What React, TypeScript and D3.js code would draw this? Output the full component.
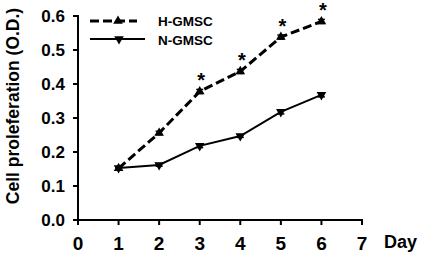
import React from "react";
import * as d3 from "d3";

const days = [1, 2, 3, 4, 5, 6];
const hGMSC = [0.152, 0.256, 0.378, 0.437, 0.538, 0.584];
const hErr = [0.004, 0.005, 0.006, 0.006, 0.006, 0.006];
const nGMSC = [0.153, 0.162, 0.218, 0.247, 0.318, 0.368];
const nErr = [0.004, 0.004, 0.005, 0.004, 0.006, 0.006];
const starDays = [3, 4, 5, 6];
const xTicks = [0, 1, 2, 3, 4, 5, 6, 7];
const yTicks = [0, 0.1, 0.2, 0.3, 0.4, 0.5, 0.6];
const seriesNames = ["H-GMSC", "N-GMSC"];

const W = 422, H = 256;
const FONT = "'Liberation Sans', Arial, sans-serif";

export default function App() {
  const x = d3.scaleLinear().domain([0, 7]).range([78, 362]);
  const y = d3.scaleLinear().domain([0, 0.6]).range([220, 16]);
  const line = d3.line<number>().x((_, i) => x(days[i])).y((d) => y(d));

  const triUp = d3.symbol().type(d3.symbolTriangle).size(40)()!;

  const errBars = (vals: number[], errs: number[], key: string) =>
    vals.map((v, i) => {
      const cx = x(days[i]);
      const y1 = y(v + errs[i]);
      const y2 = y(v - errs[i]);
      return (
        <g key={key + i} stroke="#000" strokeWidth={1.5}>
          <line x1={cx} x2={cx} y1={y1} y2={y2} />
          <line x1={cx - 3.5} x2={cx + 3.5} y1={y1} y2={y1} />
          <line x1={cx - 3.5} x2={cx + 3.5} y1={y2} y2={y2} />
        </g>
      );
    });

  return (
    <svg width={W} height={H} style={{ position: "absolute", left: 0, top: 0, background: "#fff" }}>
      {/* axes */}
      <g stroke="#000" strokeWidth={2} fill="none">
        <line x1={x(0)} x2={x(0)} y1={y(0.6) - 1} y2={y(0)} />
        <line x1={x(0)} x2={x(7) + 1} y1={y(0)} y2={y(0)} />
        {yTicks.map((t) => (
          <line key={"yt" + t} x1={x(0) - 5} x2={x(0)} y1={y(t)} y2={y(t)} />
        ))}
        {xTicks.map((t) => (
          <line key={"xt" + t} x1={x(t)} x2={x(t)} y1={y(0)} y2={y(0) + 5} />
        ))}
      </g>
      <g fontFamily={FONT} fontWeight="bold" fill="#000">
        {yTicks.map((t) => (
          <text key={"yl" + t} x={65} y={y(t) + 6} textAnchor="end" fontSize={17}>
            {t.toFixed(1)}
          </text>
        ))}
        {xTicks.map((t) => (
          <text key={"xl" + t} x={x(t)} y={250} textAnchor="middle" fontSize={19}>
            {t}
          </text>
        ))}
        <text x={384} y={248} fontSize={18}>Day</text>
        <text
          transform={`translate(19,106) rotate(-90)`}
          textAnchor="middle"
          fontSize={17.5}
        >
          Cell proleferation (O.D.)
        </text>
      </g>

      {/* lines */}
      <path d={line(hGMSC)!} fill="none" stroke="#000" strokeWidth={3} strokeDasharray="9,4" />
      <path d={line(nGMSC)!} fill="none" stroke="#000" strokeWidth={2} />
      {errBars(hGMSC, hErr, "h")}
      {errBars(nGMSC, nErr, "n")}
      {hGMSC.map((v, i) => (
        <path key={"hm" + i} d={triUp} transform={`translate(${x(days[i])},${y(v)})`} fill="#000" />
      ))}
      {nGMSC.map((v, i) => (
        <path key={"nm" + i} d={triUp} transform={`translate(${x(days[i])},${y(v)}) rotate(180)`} fill="#000" />
      ))}

      {/* stars */}
      <g fontFamily={FONT} fontWeight="bold" fontSize={20} fill="#000">
        {starDays.map((d) => {
          const v = hGMSC[days.indexOf(d)];
          return (
            <text key={"s" + d} x={x(d) + 1.5} y={y(v) - 4} textAnchor="middle">
              *
            </text>
          );
        })}
      </g>

      {/* legend */}
      <g>
        <line x1={90} x2={137} y1={21} y2={21} stroke="#000" strokeWidth={3} strokeDasharray="9,4" />
        <path d={triUp} transform="translate(118,21)" fill="#000" />
        <line x1={90} x2={145} y1={39} y2={39} stroke="#000" strokeWidth={2} />
        <path d={triUp} transform="translate(119,39) rotate(180)" fill="#000" />
        <g fontFamily={FONT} fontWeight="bold" fontSize={13.5} fill="#000">
          <text x={158} y={26}>{seriesNames[0]}</text>
          <text x={158} y={44.5}>{seriesNames[1]}</text>
        </g>
      </g>
    </svg>
  );
}
